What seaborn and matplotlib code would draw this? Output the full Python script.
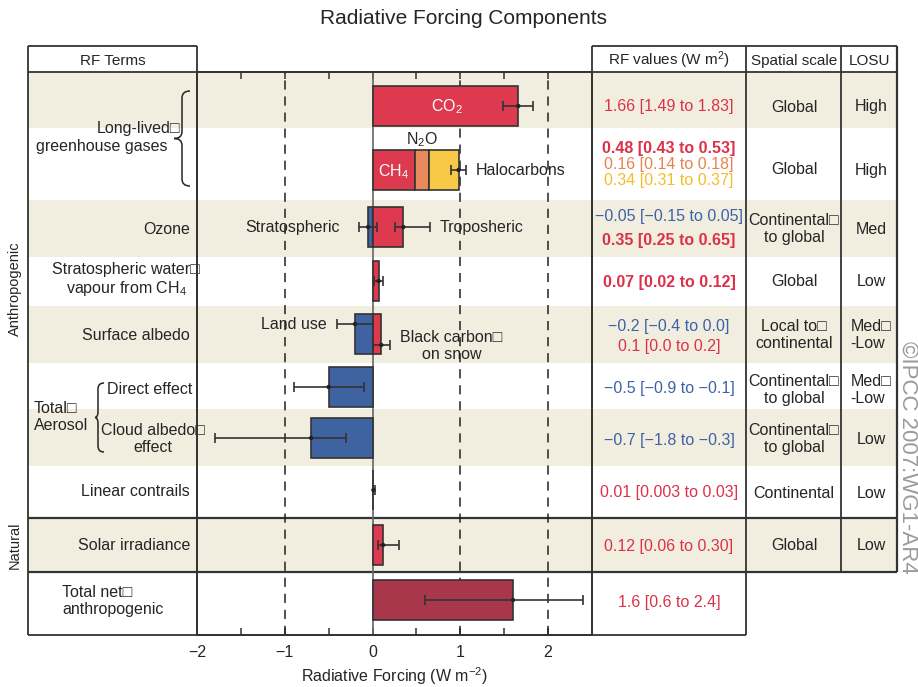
import matplotlib
import matplotlib.pyplot as plt
import numpy as np
import seaborn as sns
from matplotlib.path import Path
from matplotlib.patches import PathPatch

sns.set_theme(style='white')
plt.rcParams['font.family'] = ['Liberation Sans', 'DejaVu Sans']
plt.rcParams['mathtext.fontset'] = 'custom'
plt.rcParams['mathtext.rm'] = 'Liberation Sans'
plt.rcParams['mathtext.it'] = 'Liberation Sans:italic'
plt.rcParams['mathtext.bf'] = 'Liberation Sans:bold'

# ---- data ----
components = ['CO2', 'CH4', 'N2O', 'Halocarbons', 'Strat O3', 'Trop O3', 'Strat H2O',
              'Land use', 'Black carbon', 'Direct', 'Cloud albedo', 'Contrails', 'Solar', 'Total net']
rf_best = [1.66, 0.48, 0.16, 0.34, -0.05, 0.35, 0.07, -0.2, 0.1, -0.5, -0.7, 0.01, 0.12, 1.6]
rf_low = [1.49, 0.43, 0.14, 0.31, -0.15, 0.25, 0.02, -0.4, 0.0, -0.9, -1.8, 0.003, 0.06, 0.6]
rf_high = [1.83, 0.53, 0.18, 0.37, 0.05, 0.65, 0.12, 0.0, 0.2, -0.1, -0.3, 0.03, 0.30, 2.4]
# non-CO2 long-lived gases drawn as one stack with one error bar
stack_members = ['CH4', 'N2O', 'Halocarbons']
stack_err = [0.89, 0.98, 1.07]   # low, best, high

rf_text = ['1.66 [1.49 to 1.83]', '0.48 [0.43 to 0.53]', '0.16 [0.14 to 0.18]', '0.34 [0.31 to 0.37]',
           '\u22120.05 [\u22120.15 to 0.05]', '0.35 [0.25 to 0.65]', '0.07 [0.02 to 0.12]',
           '\u22120.2 [\u22120.4 to 0.0]', '0.1 [0.0 to 0.2]', '\u22120.5 [\u22120.9 to \u22120.1]',
           '\u22120.7 [\u22121.8 to \u22120.3]', '0.01 [0.003 to 0.03]', '0.12 [0.06 to 0.30]',
           '1.6 [0.6 to 2.4]']
rf_bold = [False, True, False, False, False, True, True, False, False, False, False, False, False, False]

spatial = ['Global', 'Global', 'Continental\u25a1\nto global', 'Global', 'Local to\u25a1\ncontinental',
           'Continental\u25a1\nto global', 'Continental\u25a1\nto global', 'Continental', 'Global']
losu = ['High', 'High', 'Med', 'Low', 'Med\u25a1\n-Low', 'Med\u25a1\n-Low', 'Low', 'Low', 'Low']

# ---- layout (pixel rows of the 918x687 canvas) ----
W, H = 918, 687
row_edges = [72, 128, 200, 257, 306, 363, 409, 466, 518, 572, 635]
shaded = [0, 2, 4, 6, 8]
table_rows_y = [107, 170, 229, 282, 335, 390, 439, 493, 546]
comp_y = {'CO2': 106, 'CH4': 170, 'N2O': 170, 'Halocarbons': 170, 'Strat O3': 227, 'Trop O3': 227,
          'Strat H2O': 281, 'Land use': 334, 'Black carbon': 334, 'Direct': 387, 'Cloud albedo': 438,
          'Contrails': 490, 'Solar': 545, 'Total net': 600}
err_y = dict(comp_y, **{'Land use': 324, 'Black carbon': 345})
rf_text_y = [107, 149, 165, 181, 217, 240, 282, 326, 346, 389, 440, 493, 546, 603]

RED, ORANGE, YELLOW, BLUE, DARKRED = '#dd3a50', '#e98a5c', '#f8c946', '#3f62a1', '#a8374b'
TXT_RED, TXT_ORANGE, TXT_YELLOW, TXT_BLUE = '#dc3249', '#e8834f', '#f5bd2a', '#3d62a8'
bar_color = {'CO2': RED, 'CH4': RED, 'N2O': ORANGE, 'Halocarbons': YELLOW, 'Strat O3': BLUE,
             'Trop O3': RED, 'Strat H2O': RED, 'Land use': BLUE, 'Black carbon': RED, 'Direct': BLUE,
             'Cloud albedo': BLUE, 'Contrails': RED, 'Solar': RED, 'Total net': DARKRED}
text_color = [TXT_RED, TXT_RED, TXT_ORANGE, TXT_YELLOW, TXT_BLUE, TXT_RED, TXT_RED, TXT_BLUE, TXT_RED,
              TXT_BLUE, TXT_BLUE, TXT_RED, TXT_RED, TXT_RED]
BEIGE = '#f1eee0'
INK = '#252525'
LINE = '#333333'
FS = 11.5

fig = plt.figure(figsize=(W / 100, H / 100), dpi=100)
bg = fig.add_axes([0, 0, 1, 1])
bg.set_xlim(0, W)
bg.set_ylim(H, 0)
bg.axis('off')


def hline(y, x0, x1, lw=1.3):
    bg.plot([x0, x1], [y, y], color=LINE, lw=lw, solid_capstyle='butt', zorder=3)


def vline(x, y0, y1, lw=1.3):
    bg.plot([x, x], [y0, y1], color=LINE, lw=lw, solid_capstyle='butt', zorder=3)


def brace(x_tip, x_v, x_end, y0, y1, r=7):
    ym = (y0 + y1) / 2
    verts = [(x_end, y0), (x_v, y0), (x_v, y0 + r), (x_v, ym - r), (x_v, ym), (x_tip, ym),
             (x_v, ym), (x_v, ym + r), (x_v, y1 - r), (x_v, y1), (x_end, y1)]
    codes = [Path.MOVETO, Path.CURVE3, Path.CURVE3, Path.LINETO, Path.CURVE3, Path.CURVE3,
             Path.CURVE3, Path.CURVE3, Path.LINETO, Path.CURVE3, Path.CURVE3]
    bg.add_patch(PathPatch(Path(verts, codes), fill=False, color=INK, lw=1.1, zorder=4))


# shaded bands
for i in shaded:
    bg.fill_between([28, 897], row_edges[i], row_edges[i + 1], color=BEIGE, lw=0, zorder=1)

# table frame
hline(46, 28, 197)
hline(46, 592, 897)
hline(72, 28, 897)
hline(518, 28, 897, lw=1.6)
hline(572, 28, 897, lw=1.6)
hline(635, 28, 746)
vline(28, 46, 635)
vline(197, 46, 635)
vline(592, 46, 635)
vline(746, 46, 635)
vline(841, 46, 572)
vline(897, 46, 572, lw=1.6)

# headers
bg.text(463, 19, 'Radiative Forcing Components', ha='center', va='center', fontsize=15, color=INK)
bg.text(113, 61, 'RF Terms', ha='center', va='center', fontsize=11, color=INK)
bg.text(669, 60, 'RF values (W m$^{2}$)', ha='center', va='center', fontsize=11, color=INK)
bg.text(794, 61, 'Spatial scale', ha='center', va='center', fontsize=11, color=INK)
bg.text(869, 61, 'LOSU', ha='center', va='center', fontsize=11, color=INK)

# left term labels
bg.text(180, 128, 'Long-lived\u25a1', ha='right', va='center', fontsize=FS, color=INK)
bg.text(168, 147, 'greenhouse gases', ha='right', va='center', fontsize=FS, color=INK)
brace(174, 182, 190, 91, 186)
bg.text(190, 229, 'Ozone', ha='right', va='center', fontsize=FS, color=INK)
bg.text(200, 280, 'Stratospheric water\u25a1\nvapour from CH$_4$', ha='right', va='center',
        multialignment='center', fontsize=FS, color=INK, linespacing=1.1)
bg.text(190, 335, 'Surface albedo', ha='right', va='center', fontsize=FS, color=INK)
bg.text(88, 417, 'Total\u25a1\nAerosol', ha='right', va='center', multialignment='left',
        fontsize=FS, color=INK, linespacing=1.1)
brace(95, 98, 104, 383, 452, r=6)
bg.text(192, 389, 'Direct effect', ha='right', va='center', fontsize=FS, color=INK)
bg.text(153, 439, 'Cloud albedo\u25a1\neffect', ha='center', va='center', multialignment='center',
        fontsize=FS, color=INK, linespacing=1.1)
bg.text(190, 491, 'Linear contrails', ha='right', va='center', fontsize=FS, color=INK)
bg.text(190, 545, 'Solar irradiance', ha='right', va='center', fontsize=FS, color=INK)
bg.text(62, 601, 'Total net\u25a1\nanthropogenic', ha='left', va='center', multialignment='left',
        fontsize=FS, color=INK, linespacing=1.1)
bg.text(15, 289, 'Anthropogenic', rotation=90, ha='center', va='center', fontsize=10.5, color=INK)
bg.text(15, 545, 'Natural', rotation=90, ha='center', va='center', fontsize=10.5, color=INK)

# table columns
for txt, y, c, b in zip(rf_text, rf_text_y, text_color, rf_bold):
    bg.text(669, y, txt, ha='center', va='center', fontsize=FS, color=c,
            fontweight='bold' if b else 'normal')
for txt, y in zip(spatial, table_rows_y):
    bg.text(794, y, txt, ha='center', va='center', multialignment='center', fontsize=FS,
            color=INK, linespacing=1.1)
for txt, y in zip(losu, table_rows_y):
    bg.text(871, y, txt, ha='center', va='center', multialignment='left', fontsize=FS,
            color=INK, linespacing=1.1)
bg.text(908, 457, '\u00a9IPCC 2007:WG1-AR4', rotation=-90, ha='center', va='center',
        fontsize=16, color='#9a9a9a')

# ---- main forcing axes ----
ax = fig.add_axes([197 / W, 1 - 635 / H, 395 / W, 563 / H], zorder=2)
ax.set_facecolor('none')
ax.set_xlim(-2, 2.5)
ax.set_ylim(635, 72)

ax.axvline(0, color='#666666', lw=1.2, zorder=1)
for xv in (-1, 1, 2):
    ax.axvline(xv, color='#222222', lw=1.1, dashes=(6, 4.5), zorder=1)

best = dict(zip(components, rf_best))
low = dict(zip(components, rf_low))
high = dict(zip(components, rf_high))

stack_vals = [best[c] for c in stack_members]
stack_left = np.concatenate([[0], np.cumsum(stack_vals)[:-1]])
lefts = dict(zip(stack_members, stack_left))

for c in components:
    ax.barh(comp_y[c], best[c], left=lefts.get(c, 0), height=40, color=bar_color[c],
            edgecolor=LINE, lw=1.2, zorder=2)

err_comps = [c for c in components if c not in stack_members]
ex = [best[c] for c in err_comps]
ey = [err_y[c] for c in err_comps]
xerr = [[best[c] - low[c] for c in err_comps], [high[c] - best[c] for c in err_comps]]
ax.errorbar(ex, ey, xerr=xerr, fmt='none', ecolor=LINE, elinewidth=1.2, capsize=3.6,
            capthick=1.2, zorder=3)
ax.errorbar([stack_err[1]], [comp_y['CH4']], xerr=[[stack_err[1] - stack_err[0]], [stack_err[2] - stack_err[1]]],
            fmt='none', ecolor=LINE, elinewidth=1.2, capsize=3.6, capthick=1.2, zorder=3)
sns.scatterplot(x=ex + [stack_err[1]], y=ey + [comp_y['CH4']], color='#222222', s=10,
                edgecolor='none', ax=ax, zorder=4, legend=False)

# bar annotations
ax.text(best['CO2'] / 2 + 0.02, comp_y['CO2'] + 1, 'CO$_2$', color='white', ha='center', va='center', fontsize=FS)
ax.text(best['CH4'] / 2, comp_y['CH4'] + 2, 'CH$_4$', color='white', ha='center', va='center', fontsize=FS)
ax.text(lefts['N2O'] + best['N2O'] / 2, comp_y['N2O'] - 30, 'N$_2$O', color=INK, ha='center',
        va='center', fontsize=FS)
ax.text(1.17, comp_y['Halocarbons'] + 1, 'Halocarbons', color=INK, ha='left', va='center', fontsize=FS)
ax.text(-0.37, comp_y['Strat O3'] + 1, 'Stratospheric', color=INK, ha='right', va='center', fontsize=FS)
ax.text(0.76, comp_y['Trop O3'] + 1, 'Troposheric', color=INK, ha='left', va='center', fontsize=FS)
ax.text(-0.52, err_y['Land use'] + 1, 'Land use', color=INK, ha='right', va='center', fontsize=FS)
ax.text(0.9, comp_y['Black carbon'] + 12, 'Black carbon\u25a1\non snow', color=INK, ha='center',
        va='center', multialignment='center', fontsize=FS, linespacing=1.1)

ax.set_xticks([-2, -1, 0, 1, 2])
ax.set_xticks([-1.5, -0.5, 0.5, 1.5], minor=True)
ax.set_yticks([])
ax.tick_params(axis='x', which='both', direction='in', top=True, bottom=True, labelsize=FS,
               colors=LINE, labelcolor=INK, pad=7)
ax.tick_params(axis='x', which='major', length=5, width=1.1)
ax.tick_params(axis='x', which='minor', length=5, width=1.1)
ax.set_xlabel('Radiative Forcing (W m$^{-2}$)', fontsize=FS, color=INK, labelpad=4)
for s in ax.spines.values():
    s.set_color(LINE)
    s.set_linewidth(1.3)

fig.savefig('out.png', dpi=100)
